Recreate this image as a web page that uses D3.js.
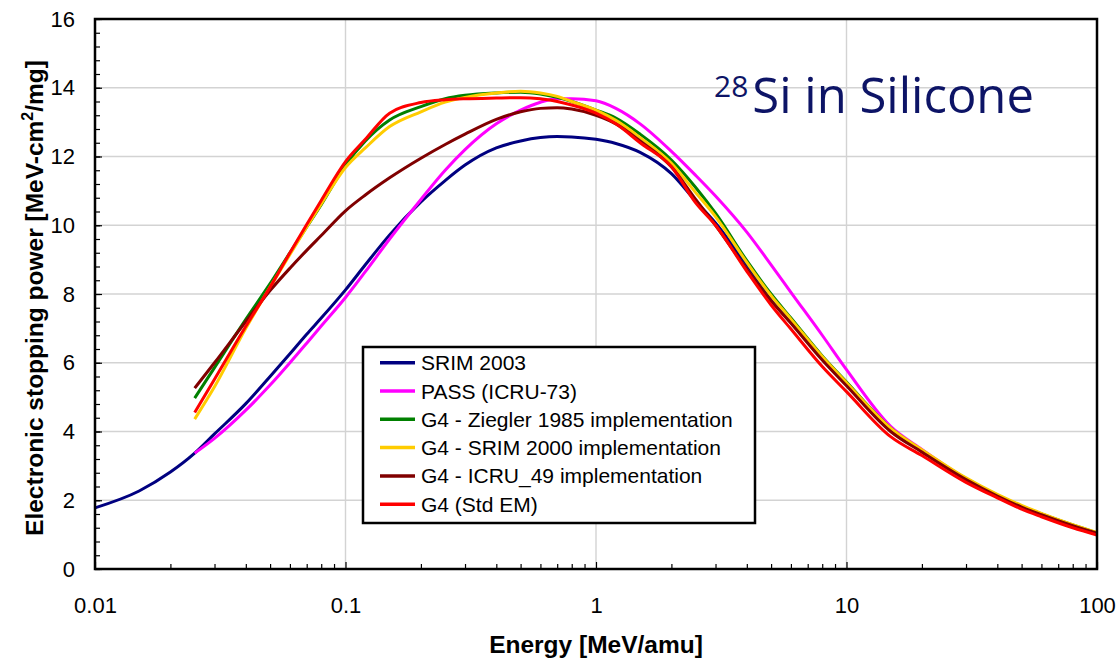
<!DOCTYPE html>
<html>
<head>
<meta charset="utf-8">
<script src="https://cdn.jsdelivr.net/npm/d3@7"></script>
<style>
  body { margin: 0; background: #fff; }
  text { font-family: "Liberation Sans", Arial, sans-serif; }
</style>
</head>
<body>
<svg id="chart" width="1119" height="659"></svg>
<script>
// energies [MeV/amu] shared by every curve
const energy = [0.01, 0.015, 0.02, 0.025, 0.03, 0.04, 0.05, 0.06, 0.07, 0.08,
  0.1, 0.12, 0.15, 0.2, 0.25, 0.3, 0.4, 0.5, 0.6, 0.7, 0.8,
  1, 1.2, 1.5, 2, 2.5, 3, 4, 5, 6, 8, 10,
  15, 20, 30, 40, 50, 60, 80, 100];

// stopping power [MeV cm2/mg], null = not computed
const srim2003 = [1.78, 2.27, 2.82, 3.37, 3.93, 4.81, 5.6, 6.26, 6.83, 7.3,
  8.12, 8.85, 9.72, 10.68, 11.3, 11.75, 12.25, 12.45, 12.55, 12.58, 12.57,
  12.5, 12.38, 12.12, 11.5, 10.7, 10.07, 8.85, 7.9, 7.25, 6.17, 5.4,
  4.05, 3.42, 2.6, 2.12, 1.8, 1.58, 1.26, 1.04];
const pass = [null, null, null, 3.37, 3.8, 4.62, 5.35, 6.0, 6.57, 7.07,
  7.9, 8.65, 9.6, 10.75, 11.6, 12.2, 12.95, 13.35, 13.58, 13.68, 13.68,
  13.62, 13.4, 12.95, 12.15, 11.45, 10.85, 9.8, 8.85, 8.05, 6.8, 5.8,
  4.15, 3.48, 2.63, 2.14, 1.82, 1.6, 1.27, 1.04];
const g4Ziegler = [null, null, null, 4.97, 5.86, 7.26, 8.3, 9.2, 9.95, 10.6,
  11.75, 12.45, 13.06, 13.45, 13.68, 13.78, 13.85, 13.87, 13.82, 13.72, 13.6,
  13.35, 13.12, 12.65, 11.9, 11.1, 10.35, 8.97, 8.0, 7.3, 6.2, 5.44,
  4.1, 3.45, 2.63, 2.15, 1.83, 1.6, 1.28, 1.05];
const g4Srim2000 = [null, null, null, 4.36, 5.3, 7.0, 8.2, 9.15, 9.95, 10.62,
  11.68, 12.25, 12.87, 13.3, 13.58, 13.72, 13.85, 13.9, 13.85, 13.75, 13.6,
  13.35, 13.05, 12.55, 11.8, 10.95, 10.25, 8.92, 7.95, 7.27, 6.18, 5.42,
  4.1, 3.47, 2.65, 2.17, 1.85, 1.62, 1.29, 1.06];
const g4Icru49 = [null, null, null, 5.26, 6.0, 7.2, 8.1, 8.75, 9.27, 9.7,
  10.42, 10.88, 11.38, 11.95, 12.35, 12.65, 13.08, 13.3, 13.4, 13.42, 13.38,
  13.2, 12.95, 12.45, 11.7, 10.75, 10.0, 8.72, 7.8, 7.15, 6.08, 5.33,
  4.0, 3.4, 2.6, 2.12, 1.8, 1.58, 1.26, 1.04];
const g4Std = [null, null, null, 4.55, 5.52, 7.06, 8.2, 9.2, 10.02, 10.72,
  11.85, 12.5, 13.26, 13.57, 13.65, 13.68, 13.7, 13.71, 13.68, 13.6, 13.5,
  13.26, 12.95, 12.4, 11.7, 10.65, 10.0, 8.66, 7.68, 6.98, 5.89, 5.16,
  3.85, 3.3, 2.52, 2.07, 1.74, 1.52, 1.2, 0.99];

const seriesNames = ["SRIM 2003", "PASS (ICRU-73)", "G4 - Ziegler 1985 implementation",
  "G4 - SRIM 2000 implementation", "G4 - ICRU_49 implementation", "G4 (Std EM)"];
const seriesValues = [srim2003, pass, g4Ziegler, g4Srim2000, g4Icru49, g4Std];
const seriesColors = ["#000080", "#ff00ff", "#008000", "#ffcc00", "#800000", "#ff0000"];

const yTicks = [0, 2, 4, 6, 8, 10, 12, 14, 16];
const xTicks = [0.01, 0.1, 1, 10, 100];
const xTickLabels = ["0.01", "0.1", "1", "10", "100"];

const svg = d3.select("#chart");
const mLeft = 95, mRight = 1097, mTop = 19, mBottom = 569;

const x = d3.scaleLog().domain([0.01, 100]).range([mLeft, mRight]);
const y = d3.scaleLinear().domain([0, 16]).range([mBottom, mTop]);

// grid
svg.append("g")
  .selectAll("line")
  .data(yTicks.filter(d => d > 0 && d < 16))
  .enter().append("line")
  .attr("x1", mLeft).attr("x2", mRight)
  .attr("y1", d => y(d)).attr("y2", d => y(d))
  .attr("stroke", "#d3d3d3").attr("stroke-width", 1.4);

svg.append("g")
  .selectAll("line")
  .data([0.1, 1, 10])
  .enter().append("line")
  .attr("x1", d => x(d)).attr("x2", d => x(d))
  .attr("y1", mTop).attr("y2", mBottom)
  .attr("stroke", "#d3d3d3").attr("stroke-width", 1.4);

// minor ticks
const yMinor = d3.range(0, 16.01, 0.4).map(d => +d.toFixed(1));
svg.append("g")
  .attr("transform", `translate(${mLeft},0)`)
  .call(d3.axisLeft(y).tickValues(yMinor).tickSize(-5).tickFormat(""))
  .call(g => g.select(".domain").remove())
  .selectAll("line").attr("stroke", "#000").attr("stroke-width", 1.2);

const xMinor = [];
[0.01, 0.1, 1, 10].forEach(dec => { for (let k = 2; k <= 9; k++) xMinor.push(dec * k); });
svg.append("g")
  .attr("transform", `translate(0,${mBottom})`)
  .call(d3.axisBottom(x).tickValues(xMinor).tickSize(-5).tickFormat(""))
  .call(g => g.select(".domain").remove())
  .selectAll("line").attr("stroke", "#000").attr("stroke-width", 1.2);

// labelled axes
const yAxis = svg.append("g")
  .attr("transform", `translate(${mLeft},0)`)
  .call(d3.axisLeft(y).tickValues(yTicks).tickSize(-7).tickPadding(20));
yAxis.select(".domain").remove();
yAxis.selectAll("line").attr("stroke", "#000").attr("stroke-width", 1.2);
yAxis.selectAll("text").attr("font-size", 22).attr("fill", "#000")
  .style("font-family", "'Liberation Sans', Arial, sans-serif");

const xAxis = svg.append("g")
  .attr("transform", `translate(0,${mBottom})`)
  .call(d3.axisBottom(x).tickValues(xTicks).tickSize(-7).tickPadding(28)
    .tickFormat((d, i) => xTickLabels[i]));
xAxis.select(".domain").remove();
xAxis.selectAll("line").attr("stroke", "#000").attr("stroke-width", 1.2);
xAxis.selectAll("text").attr("font-size", 22).attr("fill", "#000")
  .style("font-family", "'Liberation Sans', Arial, sans-serif");

// curves
const line = d3.line()
  .defined(d => d[1] != null)
  .x(d => x(d[0]))
  .y(d => y(d[1]))
  .curve(d3.curveMonotoneX);

const plot = svg.append("g");
seriesValues.forEach((vals, i) => {
  plot.append("path")
    .datum(energy.map((e, j) => [e, vals[j]]))
    .attr("d", line)
    .attr("fill", "none")
    .attr("stroke", seriesColors[i])
    .attr("stroke-width", 3)
    .attr("stroke-linejoin", "round");
});

// frame
svg.append("rect")
  .attr("x", mLeft).attr("y", mTop)
  .attr("width", mRight - mLeft).attr("height", mBottom - mTop)
  .attr("fill", "none").attr("stroke", "#000").attr("stroke-width", 2.5);

// title inside plot
const title = svg.append("text")
  .attr("x", 714).attr("y", 113)
  .attr("fill", "#0d1466")
  .style("font-family", "'Open Sans', 'Noto Sans', sans-serif");
title.append("tspan").attr("font-size", 30).attr("dy", -16).text("28");
title.append("tspan").attr("font-size", 49).attr("dy", 16).attr("dx", 4).text("Si in Silicone");

// legend
const lg = svg.append("g");
lg.append("rect")
  .attr("x", 363).attr("y", 347).attr("width", 392).attr("height", 176)
  .attr("fill", "#fff").attr("stroke", "#000").attr("stroke-width", 2.5);
seriesNames.forEach((name, i) => {
  const yy = 362.7 + i * 28.3;
  lg.append("line")
    .attr("x1", 380).attr("x2", 415).attr("y1", yy).attr("y2", yy)
    .attr("stroke", seriesColors[i]).attr("stroke-width", 3.5);
  lg.append("text")
    .attr("x", 421).attr("y", yy).attr("dy", "0.36em")
    .attr("font-size", 21).attr("fill", "#000")
    .text(name);
});

// axis titles
svg.append("text")
  .attr("x", (mLeft + mRight) / 2).attr("y", 653)
  .attr("text-anchor", "middle")
  .attr("font-size", 24.5).attr("font-weight", "bold")
  .text("Energy [MeV/amu]");

const yt = svg.append("text")
  .attr("transform", `translate(43,${(mTop + mBottom) / 2 + 4}) rotate(-90)`)
  .attr("text-anchor", "middle")
  .attr("font-size", 24.5).attr("font-weight", "bold");
yt.append("tspan").text("Electronic stopping power [MeV-cm");
yt.append("tspan").attr("font-size", 16).attr("dy", -10).text("2");
yt.append("tspan").attr("dy", 10).text("/mg]");
</script>
</body>
</html>
